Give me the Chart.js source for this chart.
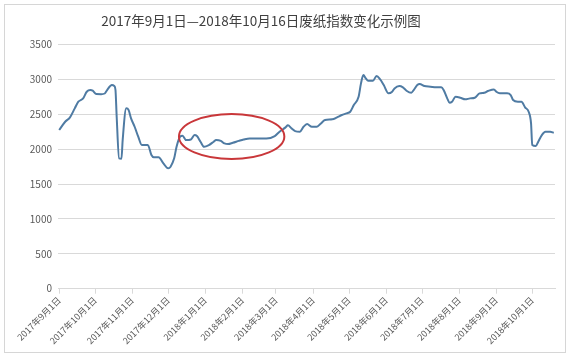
<!DOCTYPE html>
<html>
<head>
<meta charset="utf-8">
<script src="https://cdn.jsdelivr.net/npm/chart.js@4/dist/chart.umd.min.js"></script>
<style>
  html, body { margin: 0; padding: 0; background: #ffffff; }
  #frame { position: absolute; left: 4px; top: 4px; width: 560px; height: 347px; border: 1px solid #d6d6d6; background: #fff; }
  canvas { display: block; }
</style>
</head>
<body>
<div id="frame"><canvas id="c" width="560" height="347"></canvas></div>
<script>
// ---- data (days since 2017-09-01, index value) ----
const titleText = "2017年9月1日—2018年10月16日废纸指数变化示例图";
const dayOffsets = [0,5,9,13,16,20,23,26,28,31,35,38,40,44,46,47,48,50,52,53,56,58,60,63,66,69,74,77,79,83,87,91,93,96,98,101,103,106,110,113,115,118,121,125,129,131,135,138,141,145,150,154,159,165,173,180,184,189,191,194,197,201,204,207,211,215,218,222,228,232,236,240,243,246,250,252,254,256,258,262,265,268,271,275,278,280,284,287,290,294,296,299,301,305,310,315,319,321,324,326,328,331,335,339,343,347,351,355,358,363,365,368,374,377,379,383,386,389,392,394,395,398,400,403,406,410,413];
const indexValues = [2276,2395,2458,2587,2682,2730,2825,2850,2840,2792,2790,2800,2850,2921,2907,2850,2467,1870,1865,2132,2587,2562,2443,2323,2180,2061,2061,1917,1884,1884,1798,1726,1750,1870,2036,2180,2194,2132,2140,2204,2190,2108,2036,2060,2108,2132,2120,2084,2075,2093,2120,2140,2156,2156,2156,2190,2251,2314,2343,2300,2261,2253,2323,2362,2323,2323,2362,2419,2429,2458,2491,2515,2538,2634,2753,2945,3064,3017,2983,2983,3050,3002,2921,2802,2825,2873,2907,2888,2840,2811,2850,2921,2935,2907,2897,2888,2888,2850,2730,2667,2682,2753,2739,2716,2730,2739,2802,2811,2835,2859,2825,2802,2802,2778,2706,2682,2682,2601,2538,2372,2061,2046,2108,2204,2251,2251,2237];
const tickDays = [0,30,61,91,122,153,181,212,242,273,303,334,365,395];
const tickLabels = ["2017年9月1日","2017年10月1日","2017年11月1日","2017年12月1日","2018年1月1日","2018年2月1日","2018年3月1日","2018年4月1日","2018年5月1日","2018年6月1日","2018年7月1日","2018年8月1日","2018年9月1日","2018年10月1日"];
// highlighted period (ellipse) in data units: center day, center value, half-width days, half-height value
const highlightDays = [144, 44];
const highlightValues = [2183, 323];

const FONT = '"Noto Sans CJK SC", "Noto Sans", sans-serif';

const ellipsePlugin = {
  id: 'ellipse',
  afterDatasetsDraw(chart) {
    const {ctx, scales: {x, y}} = chart;
    const cx = x.getPixelForValue(highlightDays[0]);
    const cy = y.getPixelForValue(highlightValues[0]);
    const rx = Math.abs(x.getPixelForValue(highlightDays[0] + highlightDays[1]) - cx);
    const ry = Math.abs(y.getPixelForValue(highlightValues[0] + highlightValues[1]) - cy);
    ctx.save();
    ctx.beginPath();
    ctx.ellipse(cx, cy, rx, ry, 0, 0, Math.PI * 2);
    ctx.strokeStyle = '#c9373a';
    ctx.lineWidth = 2;
    ctx.stroke();
    ctx.restore();
  }
};

const titlePlugin = {
  id: 'customTitle',
  afterDraw(chart) {
    const {ctx} = chart;
    ctx.save();
    ctx.font = 'normal 13.5px ' + FONT;
    ctx.fillStyle = '#404040';
    ctx.textAlign = 'center';
    ctx.textBaseline = 'middle';
    ctx.fillText(titleText, 256, 16);
    ctx.restore();
  }
};

new Chart(document.getElementById('c'), {
  type: 'line',
  data: {
    datasets: [{
      data: dayOffsets.map((d, i) => ({x: d, y: indexValues[i]})),
      borderColor: '#4f7ba3',
      borderWidth: 2,
      pointRadius: 0,
      cubicInterpolationMode: 'monotone',
      fill: false
    }]
  },
  options: {
    responsive: false,
    animation: false,
    layout: { padding: { left: 0, right: 10, top: 39.7, bottom: 0 } },
    plugins: {
      legend: { display: false },
      tooltip: { enabled: false },
      title: { display: false }
    },
    scales: {
      x: {
        type: 'linear',
        min: -1,
        max: 414,
        afterBuildTicks: (s) => { s.ticks = tickDays.map(v => ({value: v})); },
        afterFit: (s) => { s.height = 63.3; },
        grid: { drawOnChartArea: false, drawTicks: true, tickLength: 5, color: '#d9d9d9' },
        border: { display: true, color: '#d9d9d9' },
        ticks: {
          autoSkip: false,
          minRotation: 45,
          maxRotation: 45,
          padding: 1,
          color: '#595959',
          font: { family: FONT, size: 9 },
          callback: (v) => tickLabels[tickDays.indexOf(v)]
        }
      },
      y: {
        min: 0,
        max: 3500,
        afterFit: (s) => { s.width = 53; },
        grid: { color: '#d9d9d9', drawTicks: false },
        border: { display: false },
        ticks: {
          stepSize: 500,
          padding: 6,
          color: '#595959',
          font: { family: FONT, size: 10 },
          callback: (v) => String(v)
        }
      }
    }
  },
  plugins: [ellipsePlugin, titlePlugin]
});
</script>
</body>
</html>
